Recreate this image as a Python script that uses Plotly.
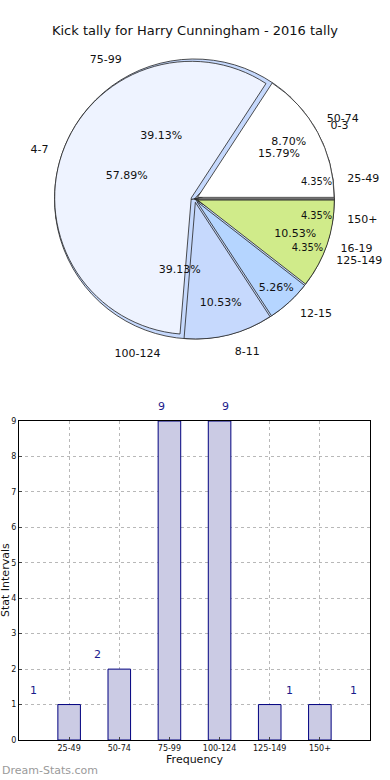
import plotly.graph_objects as go

# Pie A: stat intervals (bottom layer)
interval_labels = ["25-49", "50-74", "75-99", "100-124", "125-149", "150+"]
interval_counts = [1, 2, 9, 9, 1, 1]
interval_colors = ["#ffffff", "#eef3ff", "#c6d9fd", "#c6d9fd", "#d3ec8a", "#9a9a9a"]

# Pie B: kick ranges (top layer)
kick_labels = ["0-3", "4-7", "8-11", "12-15", "16-19"]
kick_counts = [3, 11, 2, 1, 2]
kick_colors = ["#ffffff", "#eef3ff", "#c6d9fd", "#b5d5ff", "#d0eb8a"]

# Bar chart
bar_categories = ["25-49", "50-74", "75-99", "100-124", "125-149", "150+"]
bar_values = [1, 2, 9, 9, 1, 1]

FONT = "DejaVu Sans"
W, H = 390, 780
CX, CY, R = 194.5, 199, 140


def dom(r):
    return dict(x=[(CX - r) / W, (CX + r) / W], y=[1 - (CY + r) / H, 1 - (CY - r) / H])


pie_domain = dom(R)
label_domain = dom(R + 11)
PULL = 0.025


def start_rotation(vals):
    # plotly places the first counterclockwise slice before the rotation point;
    # shift so the first slice starts at 3 o'clock like the original
    return 90 - 360 * vals[0] / sum(vals)


fig = go.Figure()

common = dict(sort=False, direction="counterclockwise", hoverinfo="skip", showlegend=False)
rot_a = start_rotation(interval_counts)
rot_b = start_rotation(kick_counts)

# colored layers
fig.add_trace(go.Pie(labels=interval_labels, values=interval_counts, rotation=rot_a,
                     domain=pie_domain,
                     marker=dict(colors=interval_colors, line=dict(color="#222", width=0.8)),
                     textinfo="none", **common))
fig.add_trace(go.Pie(labels=kick_labels, values=kick_counts, rotation=rot_b,
                     domain=pie_domain, pull=[PULL] * len(kick_counts),
                     marker=dict(colors=kick_colors, line=dict(color="#222", width=0.8)),
                     textinfo="none", **common))

transparent_a = ["rgba(0,0,0,0)"] * len(interval_counts)
transparent_b = ["rgba(0,0,0,0)"] * len(kick_counts)

# percent texts
fig.add_trace(go.Pie(labels=interval_labels, values=interval_counts, rotation=rot_a,
                     domain=pie_domain,
                     marker=dict(colors=transparent_a, line=dict(width=0)),
                     texttemplate="%{percent:.2%}", textposition="inside",
                     insidetextorientation="horizontal",
                     textfont=dict(family=FONT, size=11, color="#111"), **common))
fig.add_trace(go.Pie(labels=kick_labels, values=kick_counts, rotation=rot_b,
                     domain=pie_domain, pull=[PULL] * len(kick_counts),
                     marker=dict(colors=transparent_b, line=dict(width=0)),
                     texttemplate="%{percent:.2%}", textposition="inside",
                     insidetextorientation="horizontal",
                     textfont=dict(family=FONT, size=11, color="#111"), **common))
# outside labels
fig.add_trace(go.Pie(labels=interval_labels, values=interval_counts, rotation=rot_a,
                     domain=label_domain,
                     marker=dict(colors=transparent_a, line=dict(width=0)),
                     texttemplate="%{label}", textposition="outside",
                     textfont=dict(family=FONT, size=11, color="#111"), **common))
fig.add_trace(go.Pie(labels=kick_labels, values=kick_counts, rotation=rot_b,
                     domain=label_domain,
                     marker=dict(colors=transparent_b, line=dict(width=0)),
                     texttemplate="%{label}", textposition="outside",
                     textfont=dict(family=FONT, size=11, color="#111"), **common))

# bar chart
xpos = list(range(1, len(bar_categories) + 1))
fig.add_trace(go.Bar(x=xpos, y=bar_values, width=0.45,
                     marker=dict(color="#cbcbe4", line=dict(color="#00007f", width=1)),
                     hoverinfo="skip", showlegend=False, xaxis="x", yaxis="y"))

label_x = [0.28 + 1.28 * i for i in range(len(bar_values))]
value_annotations = [
    dict(x=lx, y=v, xref="x", yref="y", text=str(v), showarrow=False,
         yanchor="bottom", yshift=6,
         font=dict(family=FONT, size=11, color="#1a1a8c"))
    for lx, v in zip(label_x, bar_values)
]

fig.update_layout(
    width=W, height=H,
    margin=dict(l=0, r=0, t=0, b=0),
    paper_bgcolor="white", plot_bgcolor="white",
    font=dict(family=FONT, color="#111"),
    title=dict(text="Kick tally for Harry Cunningham - 2016 tally",
               x=195 / W, xanchor="center", y=1 - 30 / H, yanchor="middle",
               font=dict(family=FONT, size=13, color="#111")),
    xaxis=dict(domain=[19 / W, 370 / W], range=[0, 7], automargin=False,
               tickmode="array", tickvals=xpos, ticktext=bar_categories,
               tickfont=dict(family=FONT, size=8), ticks="inside", ticklen=3,
               showline=True, linecolor="black", mirror=True,
               showgrid=True, gridcolor="#b8b8b8", griddash="dot", zeroline=False,
               title=dict(text="Frequency", font=dict(family=FONT, size=11), standoff=2),
               anchor="y"),
    yaxis=dict(domain=[1 - 740 / H, 1 - 421 / H], range=[0, 9], dtick=1,
               automargin=False,
               tickfont=dict(family=FONT, size=8), ticks="inside", ticklen=3,
               showline=True, linecolor="black", mirror=True,
               showgrid=True, gridcolor="#b8b8b8", griddash="dot", zeroline=False,
               anchor="x"),
    annotations=value_annotations + [
        dict(text="Stat Intervals", x=5 / W, y=1 - 580 / H, xref="paper", yref="paper",
             textangle=-90, xanchor="center", yanchor="middle", showarrow=False,
             font=dict(family=FONT, size=11, color="#111")),
        dict(text="Dream-Stats.com", x=0, y=1 - 770 / H,
             xref="paper", yref="paper", xanchor="left", yanchor="middle",
             showarrow=False, font=dict(family=FONT, size=11, color="#9a9a9a"))],
)

fig.write_html("out.html", config={"displayModeBar": False},
               post_script="document.body.style.margin='0px';")
